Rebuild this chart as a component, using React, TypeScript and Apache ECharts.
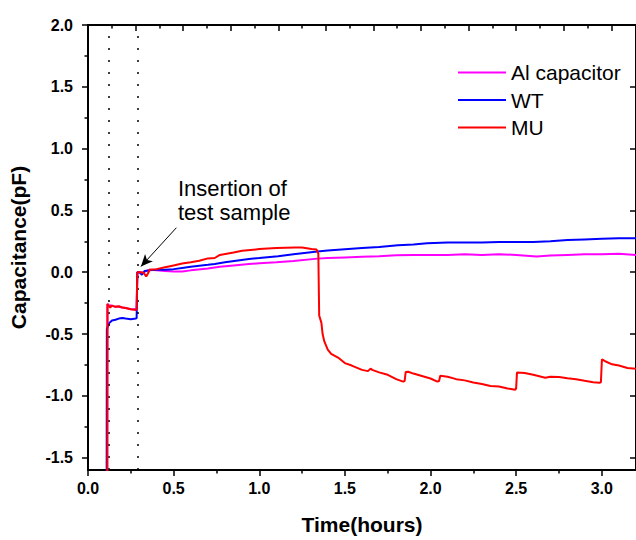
import React, { useEffect, useRef } from "react";
import * as echarts from "echarts";

const FONT = '"Liberation Sans", Arial, sans-serif';

const seriesNames = ["Al capacitor", "WT", "MU"];
const seriesColors = ["#ff00ff", "#0000ff", "#ff0000"];

const alCapacitor: [number, number][] = [
  [0.112, -1.7], [0.113, -0.26], [0.125, -0.27], [0.14, -0.27], [0.16, -0.28], [0.18, -0.28],
  [0.2, -0.285], [0.22, -0.29], [0.25, -0.3], [0.28, -0.3], [0.284, -0.29], [0.288, 0.0],
  [0.3, 0.0], [0.32, -0.005], [0.34, 0.01], [0.36, 0.02], [0.4, 0.015], [0.45, 0.01],
  [0.5, 0.005], [0.55, 0.005], [0.6, 0.015], [0.7, 0.03], [0.77, 0.045], [0.85, 0.055],
  [0.94, 0.066], [1.0, 0.072], [1.1, 0.08], [1.2, 0.09], [1.34, 0.11], [1.4, 0.115],
  [1.5, 0.12], [1.6, 0.125], [1.7, 0.13], [1.8, 0.138], [1.9, 0.14], [2.0, 0.14],
  [2.1, 0.14], [2.2, 0.145], [2.3, 0.14], [2.4, 0.145], [2.5, 0.14], [2.62, 0.128],
  [2.7, 0.135], [2.8, 0.14], [2.9, 0.145], [3.0, 0.145], [3.1, 0.15], [3.2, 0.14],
];

const wt: [number, number][] = [
  [0.109, -1.7], [0.11, -0.46], [0.115, -0.44], [0.125, -0.41], [0.14, -0.39], [0.16, -0.385],
  [0.18, -0.375], [0.2, -0.37], [0.22, -0.375], [0.25, -0.38], [0.28, -0.375], [0.284, -0.37],
  [0.288, 0.0], [0.3, 0.0], [0.315, -0.02], [0.33, 0.01], [0.36, 0.015], [0.4, 0.02],
  [0.45, 0.02], [0.5, 0.025], [0.55, 0.035], [0.6, 0.045], [0.7, 0.06], [0.74, 0.067],
  [0.8, 0.08], [0.94, 0.107], [1.0, 0.115], [1.11, 0.13], [1.2, 0.145], [1.34, 0.168],
  [1.4, 0.175], [1.5, 0.185], [1.6, 0.195], [1.7, 0.205], [1.81, 0.219], [1.9, 0.225],
  [1.98, 0.235], [2.1, 0.24], [2.2, 0.24], [2.3, 0.24], [2.4, 0.245], [2.52, 0.245],
  [2.6, 0.245], [2.7, 0.25], [2.8, 0.26], [2.9, 0.265], [3.0, 0.27], [3.1, 0.275], [3.2, 0.275],
];

const mu: [number, number][] = [
  [0.113, -1.7], [0.114, -0.255], [0.12, -0.27], [0.13, -0.285], [0.14, -0.27], [0.16, -0.28],
  [0.18, -0.275], [0.2, -0.285], [0.22, -0.29], [0.25, -0.3], [0.28, -0.305], [0.284, -0.3],
  [0.288, 0.0], [0.31, 0.0], [0.325, -0.005], [0.34, -0.035], [0.35, -0.01], [0.36, 0.02],
  [0.4, 0.025], [0.45, 0.04], [0.5, 0.055], [0.55, 0.07], [0.6, 0.08], [0.65, 0.093],
  [0.7, 0.112], [0.74, 0.115], [0.77, 0.14], [0.85, 0.16], [0.9, 0.173], [1.0, 0.187],
  [1.1, 0.195], [1.21, 0.2], [1.25, 0.2], [1.305, 0.187], [1.335, 0.183], [1.345, 0.15],
  [1.35, -0.35], [1.363, -0.41], [1.37, -0.5], [1.38, -0.56], [1.4, -0.626], [1.42, -0.66],
  [1.46, -0.69], [1.5, -0.735], [1.54, -0.755], [1.6, -0.79], [1.635, -0.8], [1.65, -0.78],
  [1.66, -0.79], [1.7, -0.81], [1.75, -0.83], [1.8, -0.865], [1.84, -0.885], [1.849, -0.88],
  [1.855, -0.808], [1.87, -0.805], [1.9, -0.82], [1.95, -0.84], [2.0, -0.86], [2.04, -0.885],
  [2.05, -0.88], [2.057, -0.838], [2.1, -0.845], [2.15, -0.865], [2.2, -0.875], [2.25, -0.892],
  [2.3, -0.905], [2.35, -0.92], [2.4, -0.925], [2.45, -0.94], [2.495, -0.95], [2.5, -0.94],
  [2.505, -0.812], [2.55, -0.815], [2.6, -0.83], [2.67, -0.853], [2.7, -0.845], [2.75, -0.848],
  [2.8, -0.858], [2.85, -0.865], [2.9, -0.878], [2.95, -0.89], [2.986, -0.895], [2.995, -0.89],
  [3.001, -0.705], [3.02, -0.72], [3.06, -0.745], [3.1, -0.755], [3.15, -0.775], [3.2, -0.78],
];

const xMajorTicks = [0, 0.5, 1.0, 1.5, 2.0, 2.5, 3.0];
const xMinorTicks = [0.25, 0.75, 1.25, 1.75, 2.25, 2.75];
const yMajorTicks = [-1.5, -1.0, -0.5, 0.0, 0.5, 1.0, 1.5, 2.0];
const yMinorTicks = [-1.25, -0.75, -0.25, 0.25, 0.75, 1.25, 1.75];
// top axis: every 1000 s (in hours), minor every 500 s
const topMajorTicks = [0, 1, 2, 3, 4, 5, 6, 7, 8, 9, 10, 11].map((k) => (k * 1000) / 3600);
const topMinorTicks = [0, 1, 2, 3, 4, 5, 6, 7, 8, 9, 10].map((k) => ((k + 0.5) * 1000) / 3600);

const markerLinesX = [0.118, 0.287];
const arrowStart = [0.516, 0.36];
const arrowEnd = [0.309, 0.046];
const annotationText = "Insertion of\ntest sample";

const X_MIN = 0;
const X_MAX = 3.2;
const Y_MIN = -1.6;
const Y_MAX = 2.0;

export default function App() {
  const ref = useRef<HTMLDivElement>(null);

  useEffect(() => {
    if (!ref.current) return;
    const chart = echarts.init(ref.current, null, { renderer: "svg" });

    const tickLabel = {
      fontFamily: FONT,
      fontWeight: "bold" as const,
      fontSize: 16,
      color: "#000",
    };
    const axisLineStyle = { show: true, onZero: false, lineStyle: { color: "#000", width: 2 } };
    const noLine = { show: false, onZero: false };
    const baseX = { type: "value" as const, min: X_MIN, max: X_MAX, splitLine: { show: false } };
    const baseY = { type: "value" as const, min: Y_MIN, max: Y_MAX, splitLine: { show: false } };
    const tickLine = { width: 1.5, color: "#000" };

    const data = [alCapacitor, wt, mu];

    chart.setOption({
      animation: false,
      backgroundColor: "#fff",
      grid: { left: 87.5, top: 25, width: 553.6, height: 450, containLabel: false },
      legend: {
        orient: "vertical",
        left: 458,
        top: 62,
        icon: "rect",
        itemWidth: 48,
        itemHeight: 2,
        itemGap: 6.5,
        padding: 0,
        data: seriesNames,
        textStyle: { fontFamily: FONT, fontSize: 21, color: "#000" },
      },
      xAxis: [
        {
          ...baseX,
          position: "bottom",
          axisLine: axisLineStyle,
          axisTick: { show: true, inside: false, length: 6, customValues: xMajorTicks, lineStyle: tickLine },
          axisLabel: { ...tickLabel, margin: 10, customValues: xMajorTicks, formatter: (v: number) => v.toFixed(1) },
          name: "Time(hours)",
          nameLocation: "middle",
          nameGap: 44,
          nameTextStyle: { fontFamily: FONT, fontWeight: "bold", fontSize: 21, color: "#000" },
        },
        {
          ...baseX,
          position: "bottom",
          axisLine: noLine,
          axisTick: { show: true, inside: false, length: 3.5, customValues: xMinorTicks, lineStyle: tickLine },
          axisLabel: { show: false },
        },
        {
          ...baseX,
          position: "top",
          axisLine: axisLineStyle,
          axisTick: { show: true, inside: true, length: 6, customValues: topMajorTicks, lineStyle: tickLine },
          axisLabel: { show: false },
        },
        {
          ...baseX,
          position: "top",
          axisLine: noLine,
          axisTick: { show: true, inside: true, length: 3.5, customValues: topMinorTicks, lineStyle: tickLine },
          axisLabel: { show: false },
        },
      ],
      yAxis: [
        {
          ...baseY,
          position: "left",
          axisLine: axisLineStyle,
          axisTick: { show: true, inside: false, length: 6, customValues: yMajorTicks, lineStyle: tickLine },
          axisLabel: { ...tickLabel, margin: 15, customValues: yMajorTicks, formatter: (v: number) => v.toFixed(1) },
          name: "Capacitance(pF)",
          nameLocation: "middle",
          nameRotate: 90,
          nameGap: 59,
          nameTextStyle: { fontFamily: FONT, fontWeight: "bold", fontSize: 21, color: "#000" },
        },
        {
          ...baseY,
          position: "left",
          axisLine: noLine,
          axisTick: { show: true, inside: false, length: 3.5, customValues: yMinorTicks, lineStyle: tickLine },
          axisLabel: { show: false },
        },
        {
          ...baseY,
          position: "right",
          axisLine: axisLineStyle,
          axisTick: { show: true, inside: true, length: 6, customValues: yMajorTicks, lineStyle: tickLine },
          axisLabel: { show: false },
        },
      ],
      series: seriesNames.map((name, i) => {
        const s: any = {
          name,
          type: "line",
          data: data[i],
          xAxisIndex: 0,
          yAxisIndex: 0,
          showSymbol: false,
          symbol: "none",
          lineStyle: { color: seriesColors[i], width: 2 },
          itemStyle: { color: seriesColors[i] },
          z: 3 + i,
        };
        if (i === 0) {
          s.markLine = {
            silent: true,
            symbol: ["none", "none"],
            label: { show: false },
            lineStyle: { color: "#000", type: [2, 10], width: 1.5 },
            data: markerLinesX.map((x) => ({ xAxis: x })),
          };
        }
        if (i === 1) {
          s.markLine = {
            silent: true,
            symbol: ["none", "arrow"],
            symbolSize: [8, 12],
            label: { show: false },
            lineStyle: { color: "#000", type: "solid", width: 1 },
            data: [[{ coord: arrowStart }, { coord: arrowEnd }]],
          };
        }
        return s;
      }),
      graphic: [
        {
          type: "text",
          left: 178,
          top: 176,
          style: {
            text: annotationText,
            font: `22px ${FONT}`,
            fill: "#000",
            lineHeight: 24,
          },
        },
      ],
    });

    return () => chart.dispose();
  }, []);

  return (
    <div
      ref={ref}
      style={{ position: "fixed", left: 0, top: 0, width: 636, height: 540 }}
    />
  );
}
